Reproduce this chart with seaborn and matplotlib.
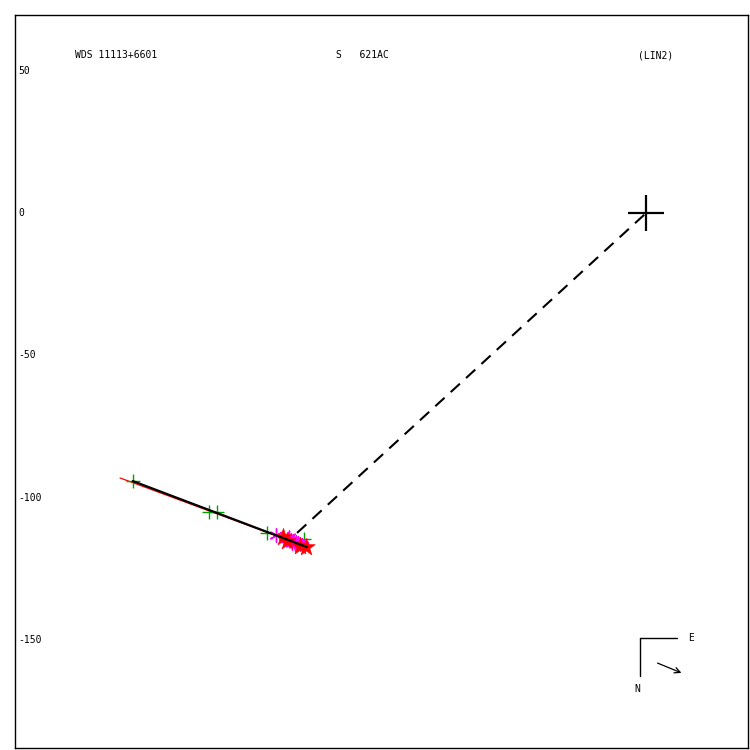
import matplotlib
matplotlib.use("Agg")
import matplotlib.pyplot as plt
import seaborn as sns

# Relative positions of the companion (arcsec-scaled units)
green_x = [-180.3, -153.5, -150.7, -133.2, -120.2]
green_y = [-94.2, -105.1, -105.1, -112.4, -114.5]

magenta_x = [-130.0, -125.8, -125.5, -124.7, -124.4, -123.7, -123.3, -123.0, -122.3, -121.6, -120.9]
magenta_y = [-113.1, -114.5, -113.8, -114.9, -116.0, -115.2, -116.3, -115.6, -116.0, -116.3, -116.7]

red_x = [-127.5, -126.1, -121.6, -119.5]
red_y = [-113.8, -115.2, -117.0, -117.4]

# Linear fit (red) and fitted motion segment (black)
fit_x = [-184.8, -119.1]
fit_y = [-93.1, -117.4]
seg_x = [-180.3, -119.1]
seg_y = [-94.2, -117.4]

# Connector to the primary
conn_x = [-122.6, 0.0]
conn_y = [-112.4, 0.0]

y_ticks = [50, 0, -50, -100, -150]

sns.set_style("white")
plt.rcParams["font.family"] = ["DejaVu Sans Mono"]
plt.rcParams["text.color"] = "black"

fig = plt.figure(figsize=(7.5, 7.5), dpi=100)
ax = fig.add_axes([15 / 750, 2 / 750, 733 / 750, 733 / 750])

sns.lineplot(x=fit_x, y=fit_y, ax=ax, color="red", linewidth=0.9, sort=False)
sns.lineplot(x=conn_x, y=conn_y, ax=ax, color="black", linewidth=1.5,
             linestyle=(0, (6, 4)), sort=False)
sns.scatterplot(x=green_x, y=green_y, ax=ax, marker="+", s=110, color="#00a000",
                linewidth=1.0, zorder=3)
sns.scatterplot(x=magenta_x, y=magenta_y, ax=ax, marker=(6, 2, 0), s=90, color="magenta",
                linewidth=1.0, zorder=4)
sns.scatterplot(x=red_x, y=red_y, ax=ax, marker="*", s=170, color="red",
                edgecolor="red", linewidth=0.5, zorder=5)
sns.lineplot(x=seg_x, y=seg_y, ax=ax, color="black", linewidth=1.6, sort=False, zorder=6)

# Primary star
ax.plot([0], [0], marker="+", markersize=26, color="black", markeredgewidth=1.6, zorder=7)

ax.set_xlim(-221.7, 35.8)
ax.set_ylim(-188.0, 69.6)
ax.set_xticks([])
ax.set_yticks([])
ax.set_xlabel("")
ax.set_ylabel("")
for s in ax.spines.values():
    s.set_color("black")
    s.set_linewidth(1.0)

for v in y_ticks:
    ax.text(0.004, v, str(v), transform=ax.get_yaxis_transform(), fontsize=7,
            ha="left", va="center", color="black")

ax.text(0.0819, 0.9454, "WDS 11113+6601", transform=ax.transAxes, fontsize=7, va="center", ha="left")
ax.text(0.4379, 0.9454, "S   621AC", transform=ax.transAxes, fontsize=7, va="center", ha="left")
ax.text(0.8500, 0.9454, "(LIN2)", transform=ax.transAxes, fontsize=7, va="center", ha="left")

# Orientation compass
ax.plot([0.8527, 0.9032], [0.1501, 0.1501], transform=ax.transAxes, color="black", linewidth=1.0)
ax.plot([0.8527, 0.8527], [0.1501, 0.0982], transform=ax.transAxes, color="black", linewidth=1.0)
ax.text(0.918, 0.1501, "E", transform=ax.transAxes, fontsize=7, ha="left", va="center")
ax.text(0.8486, 0.0805, "N", transform=ax.transAxes, fontsize=7, ha="center", va="center")
ax.annotate("", xy=(0.9127, 0.1010), xytext=(0.8731, 0.1173), xycoords="axes fraction",
            arrowprops=dict(arrowstyle="->", color="black", linewidth=0.9, mutation_scale=10))

fig.savefig("out.png", dpi=100)
